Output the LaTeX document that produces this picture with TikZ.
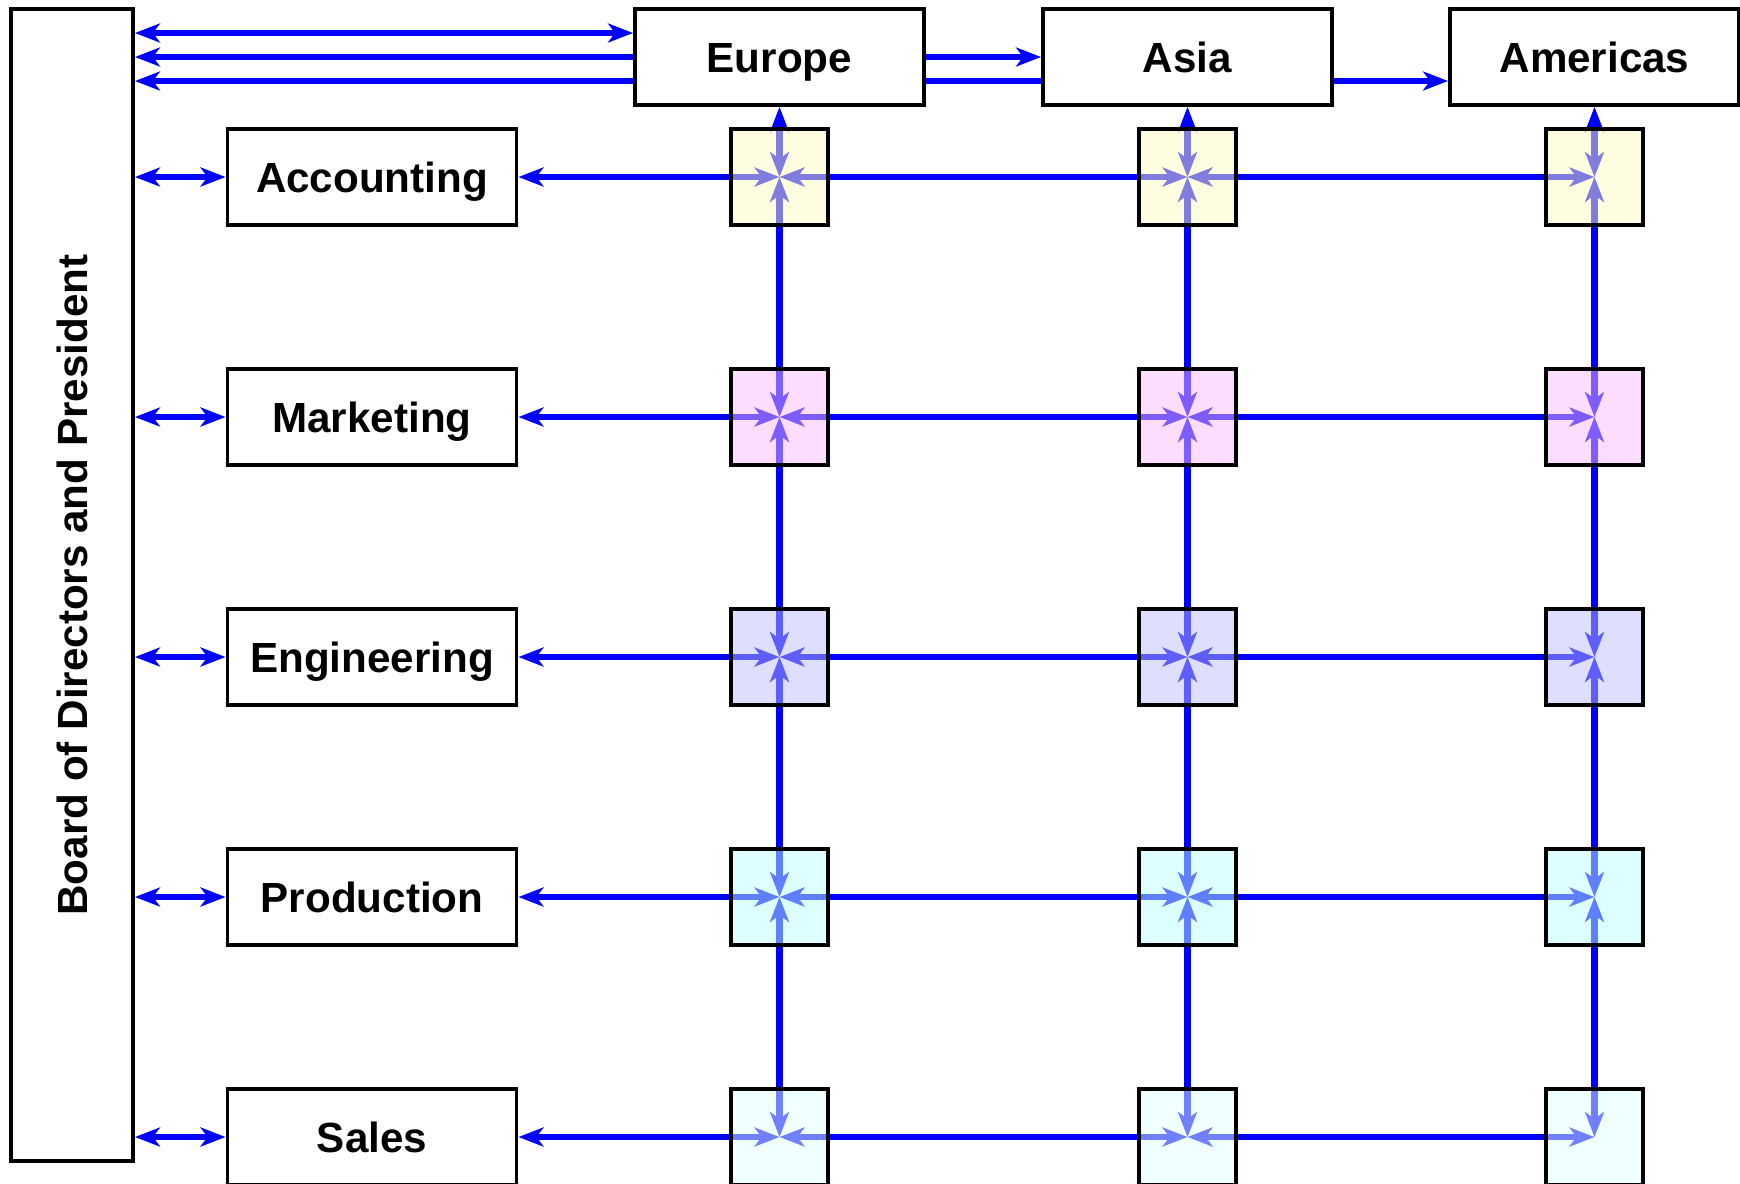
\documentclass[tikz,border=0pt]{standalone}
\usepackage{fontspec}
\setmainfont{Liberation Sans}
\usetikzlibrary{arrows.meta,backgrounds}

\definecolor{accfill}{RGB}{255,251,191}
\definecolor{mktfill}{RGB}{251,187,255}
\definecolor{engfill}{RGB}{189,189,255}
\definecolor{prodfill}{RGB}{189,255,255}
\definecolor{salesfill}{RGB}{225,255,255}

\tikzset{
  box/.style={draw,line width=1.1pt,fill=white,inner sep=0pt,
    minimum width=2.89cm,minimum height=0.96cm,
    text height=1.02em,text depth=0.15em,
    font=\bfseries\fontsize{12}{14}\selectfont},
  cell/.style={draw,line width=1.1pt,fill=#1,fill opacity=0.5,draw opacity=1,
    inner sep=0pt,minimum width=0.97cm,minimum height=0.96cm},
  link/.style={blue,line width=1.8pt,<->}
}

\begin{document}
\begin{tikzpicture}[>={Stealth[length=2.5mm,width=1.9mm,inset=0.7mm]}]
  \useasboundingbox (0,0) rectangle (17.4,-11.83);

  \node[box,minimum width=1.22cm,minimum height=11.52cm,
    text height=,text depth=] (board) at (0.72,-5.85)
    {\rotatebox{90}{Board of Directors and President}};

  % regions
  \node[box] (eur)  at (7.795,-0.57)  {Europe};
  \node[box] (asia) at (11.875,-0.57) {Asia};
  \node[box] (amer) at (15.945,-0.57) {Americas};

  % departments
  \foreach \r/\y/\txt in {acc/-1.77/Accounting,mkt/-4.17/Marketing,
      eng/-6.57/Engineering,prod/-8.97/Production,sales/-11.37/Sales}
    \node[box] (\r) at (3.72,\y) {\txt};

  % matrix cells
  \foreach \r/\col in {acc/accfill,mkt/mktfill,eng/engfill,
      prod/prodfill,sales/salesfill}
    \foreach \c in {eur,asia,amer}
      \node[cell=\col] (\r-\c) at (\c |- \r) {};

  \begin{scope}[on background layer]
    \coordinate (toE) at ([yshift=0.24cm]eur.west);
    \coordinate (toM) at ([yshift=-0.24cm]amer.west);
    \draw[link] (board.east |- toE) -- (toE);
    \draw[link] (board.east |- asia.west) -- (asia.west);
    \draw[link] (board.east |- toM) -- (toM);

    \foreach \r in {acc,mkt,eng,prod,sales} {
      \draw[link] (board.east |- \r) -- (\r.west);
      \draw[link] (\r.east) -- (\r-eur.center);
      \draw[link] (\r-eur.center) -- (\r-asia.center);
      \draw[link] (\r-asia.center) -- (\r-amer.center);
    }

    \foreach \c in {eur,asia,amer} {
      \draw[link] (\c.south) -- (acc-\c.center);
      \foreach \a/\b in {acc/mkt,mkt/eng,eng/prod,prod/sales}
        \draw[link] (\a-\c.center) -- (\b-\c.center);
    }
  \end{scope}
\end{tikzpicture}
\end{document}
